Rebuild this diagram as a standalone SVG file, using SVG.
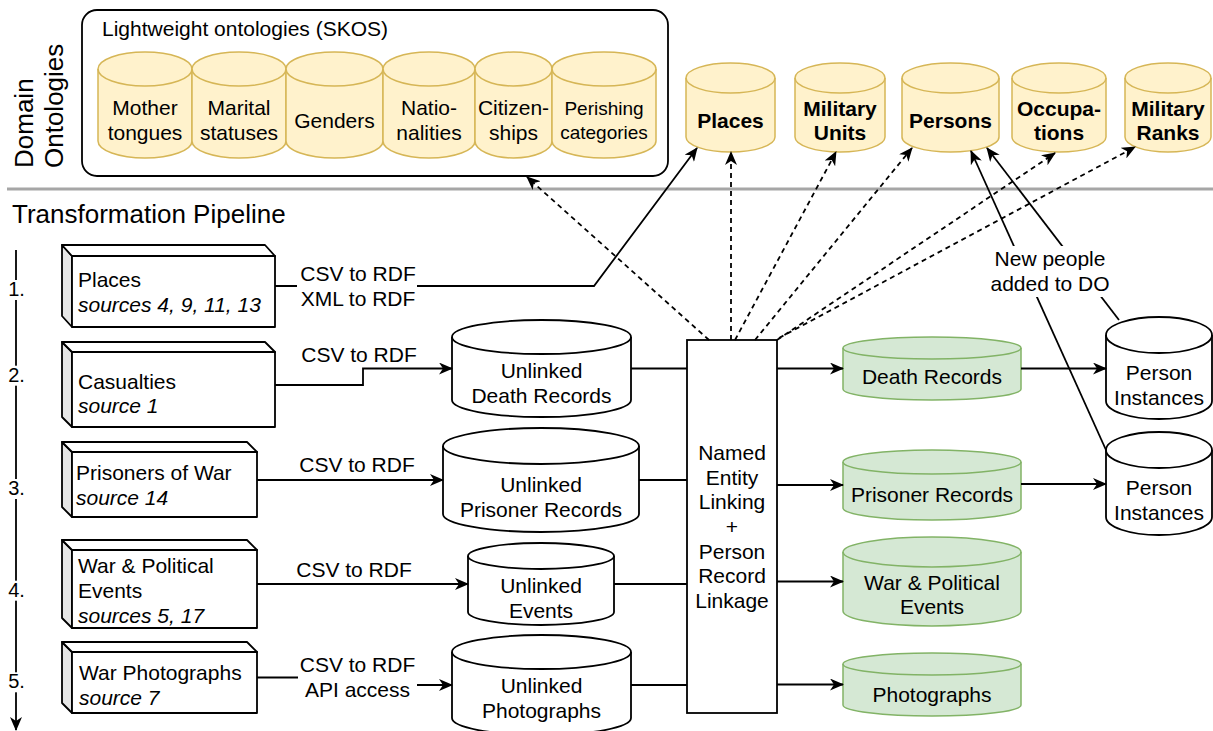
<svg xmlns="http://www.w3.org/2000/svg" width="1213" height="731" viewBox="0 0 1213 731">
<defs>
<marker id="arr" markerUnits="userSpaceOnUse" markerWidth="14" markerHeight="12" refX="13" refY="6" orient="auto" viewBox="0 0 14 12">
<path d="M0,0 L14,6 L0,12 L4,6 Z" fill="#000" stroke="none"/>
</marker>
<style>
text{font-family:"Liberation Sans",Arial,Helvetica,sans-serif;font-size:21px;fill:#000}
.c{text-anchor:middle}
.b{font-weight:bold}
.i{font-style:italic}
.t26{font-size:26px}
.s19{font-size:19px}
.s20{font-size:20px}
.yel path{fill:#fff2cc;stroke:#d6b656;stroke-width:1.5}
.grn path{fill:#d5e8d4;stroke:#82b366;stroke-width:1.5}
.wht path{fill:#fff;stroke:#000;stroke-width:1.8}
path.in{fill:none}
.box polygon,.box rect{stroke:#000;stroke-width:1.8;stroke-linejoin:round}
.ln{fill:none;stroke:#000;stroke-width:1.8}
.ds{fill:none;stroke:#000;stroke-width:1.8;stroke-dasharray:5 4}
.bg{fill:#fff;stroke:none}
</style>
</defs>
<rect width="1213" height="731" fill="#fff"/>

<!-- section titles -->
<g id="section-labels">
<text class="t26" transform="translate(32.5,168) rotate(-90)">Domain</text>
<text class="t26" transform="translate(63,168) rotate(-90)">Ontologies</text>
<text class="t26" x="12" y="223">Transformation Pipeline</text>
<line x1="7" y1="189" x2="1213" y2="189" stroke="#a6a6a6" stroke-width="3"/>
</g>

<!-- SKOS container -->
<g id="skos-group">
<rect x="82" y="10" width="586" height="166" rx="15" ry="15" fill="#fff" stroke="#000" stroke-width="1.8"/>
<text x="102" y="36">Lightweight ontologies (SKOS)</text>
</g>

<g id="skos-mother-tongues" class="yel">
<path d="M98,69 A47,17 0 0 1 192,69 V141 A47,17 0 0 1 98,141 Z"/>
<path class="in" d="M98,69 A47,17 0 0 0 192,69"/>
<text class="c" x="145" y="115">Mother</text><text class="c" x="145" y="140">tongues</text>
</g>
<g id="skos-marital" class="yel">
<path d="M192,69 A47,17 0 0 1 286,69 V141 A47,17 0 0 1 192,141 Z"/>
<path class="in" d="M192,69 A47,17 0 0 0 286,69"/>
<text class="c" x="239" y="115">Marital</text><text class="c" x="239" y="140">statuses</text>
</g>
<g id="skos-genders" class="yel">
<path d="M286,69 A48.5,17 0 0 1 383,69 V141 A48.5,17 0 0 1 286,141 Z"/>
<path class="in" d="M286,69 A48.5,17 0 0 0 383,69"/>
<text class="c" x="334.5" y="127.5">Genders</text>
</g>
<g id="skos-nationalities" class="yel">
<path d="M383,69 A46,17 0 0 1 475,69 V141 A46,17 0 0 1 383,141 Z"/>
<path class="in" d="M383,69 A46,17 0 0 0 475,69"/>
<text class="c" x="429" y="115">Natio-</text><text class="c" x="429" y="140">nalities</text>
</g>
<g id="skos-citizenships" class="yel">
<path d="M475,69 A38.5,17 0 0 1 552,69 V141 A38.5,17 0 0 1 475,141 Z"/>
<path class="in" d="M475,69 A38.5,17 0 0 0 552,69"/>
<text class="c" x="513.5" y="115">Citizen-</text><text class="c" x="513.5" y="140">ships</text>
</g>
<g id="skos-perishing" class="yel">
<path d="M552,69 A52,17 0 0 1 656,69 V141 A52,17 0 0 1 552,141 Z"/>
<path class="in" d="M552,69 A52,17 0 0 0 656,69"/>
<text class="c s19" x="604" y="115">Perishing</text><text class="c s19" x="604" y="139">categories</text>
</g>

<!-- Domain ontologies -->
<g id="do-places" class="yel">
<path d="M686,78 A44.5,15 0 0 1 775,78 V137 A44.5,15 0 0 1 686,137 Z"/>
<path class="in" d="M686,78 A44.5,15 0 0 0 775,78"/>
<text class="c b" x="730.5" y="128">Places</text>
</g>
<g id="do-military-units" class="yel">
<path d="M795,78 A45,15 0 0 1 885,78 V137 A45,15 0 0 1 795,137 Z"/>
<path class="in" d="M795,78 A45,15 0 0 0 885,78"/>
<text class="c b" x="840" y="115.5">Military</text><text class="c b" x="840" y="140">Units</text>
</g>
<g id="do-persons" class="yel">
<path d="M902,78 A48.5,15 0 0 1 999,78 V137 A48.5,15 0 0 1 902,137 Z"/>
<path class="in" d="M902,78 A48.5,15 0 0 0 999,78"/>
<text class="c b" x="950.5" y="128">Persons</text>
</g>
<g id="do-occupations" class="yel">
<path d="M1012,78 A47,15 0 0 1 1106,78 V137 A47,15 0 0 1 1012,137 Z"/>
<path class="in" d="M1012,78 A47,15 0 0 0 1106,78"/>
<text class="c b" x="1059" y="115.5">Occupa-</text><text class="c b" x="1059" y="140">tions</text>
</g>
<g id="do-military-ranks" class="yel">
<path d="M1125,78 A43,15 0 0 1 1211,78 V137 A43,15 0 0 1 1125,137 Z"/>
<path class="in" d="M1125,78 A43,15 0 0 0 1211,78"/>
<text class="c b" x="1168" y="115.5">Military</text><text class="c b" x="1168" y="140">Ranks</text>
</g>

<!-- Source boxes -->
<g id="src-places" class="box">
<polygon points="62,245 72,256 72,327 62,316" fill="#e6e6e6"/>
<polygon points="62,245 265,245 275,256 72,256" fill="#fff"/>
<rect x="72" y="256" width="203" height="71" fill="#fff"/>
<text x="78" y="286.7">Places</text><text class="i" x="78" y="311.7">sources 4, 9, 11, 13</text>
</g>
<g id="src-casualties" class="box">
<polygon points="62,342 72,352 72,427 62,417" fill="#e6e6e6"/>
<polygon points="62,342 265,342 275,352 72,352" fill="#fff"/>
<rect x="72" y="352" width="203" height="75" fill="#fff"/>
<text x="78" y="388.5">Casualties</text><text class="i" x="78" y="412.5">source 1</text>
</g>
<g id="src-prisoners" class="box">
<polygon points="62,442 72,452 72,517 62,507" fill="#e6e6e6"/>
<polygon points="62,442 247,442 257,452 72,452" fill="#fff"/>
<rect x="72" y="452" width="185" height="65" fill="#fff"/>
<text x="76" y="480">Prisoners of War</text><text class="i" x="76" y="505">source 14</text>
</g>
<g id="src-events" class="box">
<polygon points="62,540 72,550 72,628 62,618" fill="#e6e6e6"/>
<polygon points="62,540 247,540 257,550 72,550" fill="#fff"/>
<rect x="72" y="550" width="185" height="78" fill="#fff"/>
<text x="78" y="573.3">War &amp; Political</text><text x="78" y="598.3">Events</text><text class="i" x="78" y="623.3">sources 5, 17</text>
</g>
<g id="src-photographs" class="box">
<polygon points="62,642 72,652 72,713 62,703" fill="#e6e6e6"/>
<polygon points="62,642 247,642 257,652 72,652" fill="#fff"/>
<rect x="72" y="652" width="185" height="61" fill="#fff"/>
<text x="79" y="680">War Photographs</text><text class="i" x="79" y="705">source 7</text>
</g>

<!-- Unlinked stores -->
<g id="unlinked-death" class="wht">
<path d="M452,337 A89.5,17 0 0 1 631,337 V400 A89.5,17 0 0 1 452,400 Z"/>
<path class="in" d="M452,337 A89.5,17 0 0 0 631,337"/>
<text class="c" x="541.5" y="378.3">Unlinked</text><text class="c" x="541.5" y="403.3">Death Records</text>
</g>
<g id="unlinked-prisoner" class="wht">
<path d="M443,446 A98,18 0 0 1 639,446 V514 A98,18 0 0 1 443,514 Z"/>
<path class="in" d="M443,446 A98,18 0 0 0 639,446"/>
<text class="c" x="541" y="491.7">Unlinked</text><text class="c" x="541" y="516.7">Prisoner Records</text>
</g>
<g id="unlinked-events" class="wht">
<path d="M468,556 A73,13 0 0 1 614,556 V612 A73,13 0 0 1 468,612 Z"/>
<path class="in" d="M468,556 A73,13 0 0 0 614,556"/>
<text class="c" x="541" y="593.3">Unlinked</text><text class="c" x="541" y="618.3">Events</text>
</g>
<g id="unlinked-photographs" class="wht">
<path d="M452,652 A89.5,17 0 0 1 631,652 V718 A89.5,17 0 0 1 452,718 Z"/>
<path class="in" d="M452,652 A89.5,17 0 0 0 631,652"/>
<text class="c" x="541.5" y="693.3">Unlinked</text><text class="c" x="541.5" y="718.3">Photographs</text>
</g>

<!-- NEL box -->
<g id="nel">
<rect x="687" y="340" width="90" height="373" fill="#fff" stroke="#000" stroke-width="1.8"/>
<text class="c" x="732" y="460">Named</text>
<text class="c" x="732" y="484.7">Entity</text>
<text class="c" x="732" y="509.3">Linking</text>
<text class="c" x="732" y="534">+</text>
<text class="c" x="732" y="558.7">Person</text>
<text class="c" x="732" y="583.3">Record</text>
<text class="c" x="732" y="608">Linkage</text>
</g>

<!-- Linked stores -->
<g id="linked-death" class="grn">
<path d="M843,348 A89,11 0 0 1 1021,348 V389 A89,11 0 0 1 843,389 Z"/>
<path class="in" d="M843,348 A89,11 0 0 0 1021,348"/>
<text class="c" x="932" y="384">Death Records</text>
</g>
<g id="linked-prisoner" class="grn">
<path d="M843,462 A89,12 0 0 1 1021,462 V508 A89,12 0 0 1 843,508 Z"/>
<path class="in" d="M843,462 A89,12 0 0 0 1021,462"/>
<text class="c" x="932" y="501.7">Prisoner Records</text>
</g>
<g id="linked-events" class="grn">
<path d="M843,552 A89,15 0 0 1 1021,552 V611 A89,15 0 0 1 843,611 Z"/>
<path class="in" d="M843,552 A89,15 0 0 0 1021,552"/>
<text class="c" x="932" y="590">War &amp; Political</text><text class="c" x="932" y="614.3">Events</text>
</g>
<g id="linked-photographs" class="grn">
<path d="M843,664 A89,11 0 0 1 1021,664 V705 A89,11 0 0 1 843,705 Z"/>
<path class="in" d="M843,664 A89,11 0 0 0 1021,664"/>
<text class="c" x="932" y="701.7">Photographs</text>
</g>

<!-- Person instances -->
<g id="person-instances-1" class="wht">
<path d="M1106,335 A53,18 0 0 1 1212,335 V401 A53,18 0 0 1 1106,401 Z"/>
<path class="in" d="M1106,335 A53,18 0 0 0 1212,335"/>
<text class="c" x="1159" y="380">Person</text><text class="c" x="1159" y="405">Instances</text>
</g>
<g id="person-instances-2" class="wht">
<path d="M1106,450 A53,18 0 0 1 1212,450 V517 A53,18 0 0 1 1106,517 Z"/>
<path class="in" d="M1106,450 A53,18 0 0 0 1212,450"/>
<text class="c" x="1159" y="495">Person</text><text class="c" x="1159" y="520">Instances</text>
</g>

<!-- Connectors -->
<g id="connectors">
<path class="ln" d="M275,286 H594 L697,148" marker-end="url(#arr)"/>
<path class="ln" d="M275,385 H363 V368.5 H452" marker-end="url(#arr)"/>
<path class="ln" d="M257,480 H443" marker-end="url(#arr)"/>
<path class="ln" d="M257,584 H468" marker-end="url(#arr)"/>
<path class="ln" d="M257,677.5 H357 V685 H452" marker-end="url(#arr)"/>
<path class="ln" d="M631,368.5 H687"/>
<path class="ln" d="M639,480 H687"/>
<path class="ln" d="M614,584 H687"/>
<path class="ln" d="M631,685 H687"/>
<path class="ln" d="M777,368.5 H843" marker-end="url(#arr)"/>
<path class="ln" d="M777,485 H843" marker-end="url(#arr)"/>
<path class="ln" d="M777,581.5 H843" marker-end="url(#arr)"/>
<path class="ln" d="M777,684.5 H843" marker-end="url(#arr)"/>
<path class="ln" d="M1021,368.5 H1106" marker-end="url(#arr)"/>
<path class="ln" d="M1021,484 H1106" marker-end="url(#arr)"/>
<path class="ds" d="M709,340 L527,177" marker-end="url(#arr)"/>
<path class="ds" d="M731,340 V152" marker-end="url(#arr)"/>
<path class="ds" d="M735,340 L836,152" marker-end="url(#arr)"/>
<path class="ds" d="M755,340 L912,148" marker-end="url(#arr)"/>
<path class="ds" d="M777,340 L1055,153" marker-end="url(#arr)"/>
<path class="ds" d="M779,338 L1135,147" marker-end="url(#arr)"/>
<path class="ln" d="M1106,450 L971,151" marker-end="url(#arr)"/>
<path class="ln" d="M1119,320 L987,148" marker-end="url(#arr)"/>
<path class="ln" d="M16,250 V730" marker-end="url(#arr)"/>
</g>

<!-- Connector labels -->
<g id="connector-labels">
<rect class="bg" x="297" y="264" width="120" height="46"/>
<text class="c" x="358" y="281">CSV to RDF</text>
<text class="c" x="358" y="306">XML to RDF</text>
<text class="c" x="359" y="362">CSV to RDF</text>
<text class="c" x="357" y="471.7">CSV to RDF</text>
<text class="c" x="354" y="576.7">CSV to RDF</text>
<rect class="bg" x="298" y="654" width="119" height="48"/>
<text class="c" x="357.5" y="671.7">CSV to RDF</text>
<text class="c" x="357.5" y="696.7">API access</text>
<rect class="bg" x="993" y="246" width="115" height="51"/>
<text class="c" x="1050" y="266">New people</text>
<text class="c" x="1050" y="291">added to DO</text>
</g>

<!-- Step numbers -->
<g id="steps">
<rect class="bg" x="5" y="280" width="22" height="20"/>
<text class="c s20" x="16.5" y="296">1.</text>
<rect class="bg" x="5" y="365.7" width="22" height="20"/>
<text class="c s20" x="16.5" y="381.7">2.</text>
<rect class="bg" x="5" y="479" width="22" height="20"/>
<text class="c s20" x="16.5" y="495">3.</text>
<rect class="bg" x="5" y="580.7" width="22" height="20"/>
<text class="c s20" x="16.5" y="596.7">4.</text>
<rect class="bg" x="5" y="672.3" width="22" height="20"/>
<text class="c s20" x="16.5" y="688.3">5.</text>
</g>
</svg>
